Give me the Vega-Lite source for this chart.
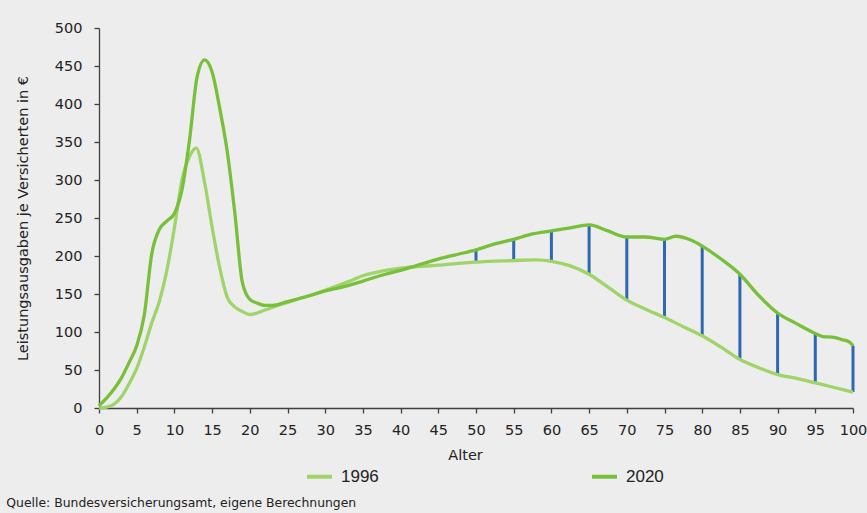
{
  "$schema": "https://vega.github.io/schema/vega-lite/v6.json",
  "width": 754,
  "height": 380,
  "autosize": {"type": "none"},
  "padding": {"left": 99, "top": 28, "right": 14, "bottom": 105},
  "background": "#ededed",
  "config": {
    "view": {"stroke": null},
    "font": "DejaVu Sans",
    "axis": {
      "grid": false,
      "labelOverlap": false,
      "labelFont": "DejaVu Sans",
      "labelFontSize": 14.5,
      "labelColor": "#222222",
      "titleFont": "DejaVu Sans",
      "titleFontSize": 14.5,
      "titleFontWeight": "normal",
      "titleColor": "#222222",
      "domainColor": "#404040",
      "domainWidth": 1.3,
      "tickColor": "#404040",
      "tickWidth": 1.3,
      "tickSize": 5
    },
    "axisX": {"labelPadding": 10, "titlePadding": 12},
    "axisY": {"labelPadding": 12, "titlePadding": 24}
  },
  "title": {
    "text": "Quelle: Bundesversicherungsamt, eigene Berechnungen",
    "orient": "bottom",
    "anchor": "start",
    "frame": "bounds",
    "font": "DejaVu Sans",
    "fontSize": 12.4,
    "fontWeight": "normal",
    "color": "#222222",
    "offset": 12,
    "dx": -9
  },
  "datasets": {
    "lines": [
      {"age": 0, "year": "1996", "value": 0},
      {"age": 1, "year": "1996", "value": 1},
      {"age": 2, "year": "1996", "value": 5},
      {"age": 3, "year": "1996", "value": 15},
      {"age": 4, "year": "1996", "value": 32},
      {"age": 5, "year": "1996", "value": 52},
      {"age": 6, "year": "1996", "value": 80},
      {"age": 7, "year": "1996", "value": 112},
      {"age": 8, "year": "1996", "value": 140},
      {"age": 9, "year": "1996", "value": 181},
      {"age": 10, "year": "1996", "value": 237},
      {"age": 11, "year": "1996", "value": 300},
      {"age": 12, "year": "1996", "value": 331},
      {"age": 12.9, "year": "1996", "value": 342},
      {"age": 14, "year": "1996", "value": 297},
      {"age": 15, "year": "1996", "value": 238},
      {"age": 16, "year": "1996", "value": 185},
      {"age": 17, "year": "1996", "value": 146},
      {"age": 18, "year": "1996", "value": 133},
      {"age": 19, "year": "1996", "value": 127},
      {"age": 20, "year": "1996", "value": 123},
      {"age": 22, "year": "1996", "value": 129},
      {"age": 24, "year": "1996", "value": 136},
      {"age": 27, "year": "1996", "value": 145},
      {"age": 30, "year": "1996", "value": 155},
      {"age": 33, "year": "1996", "value": 166},
      {"age": 35, "year": "1996", "value": 174},
      {"age": 37.5, "year": "1996", "value": 180},
      {"age": 40, "year": "1996", "value": 184},
      {"age": 45, "year": "1996", "value": 188},
      {"age": 50, "year": "1996", "value": 192},
      {"age": 55, "year": "1996", "value": 194},
      {"age": 58, "year": "1996", "value": 195},
      {"age": 60, "year": "1996", "value": 193},
      {"age": 62.5, "year": "1996", "value": 187},
      {"age": 65, "year": "1996", "value": 176},
      {"age": 67.5, "year": "1996", "value": 159},
      {"age": 70, "year": "1996", "value": 142},
      {"age": 72.5, "year": "1996", "value": 130},
      {"age": 75, "year": "1996", "value": 119},
      {"age": 77.5, "year": "1996", "value": 107},
      {"age": 80, "year": "1996", "value": 95},
      {"age": 82.5, "year": "1996", "value": 80},
      {"age": 85, "year": "1996", "value": 64},
      {"age": 87.5, "year": "1996", "value": 53},
      {"age": 90, "year": "1996", "value": 44},
      {"age": 92.5, "year": "1996", "value": 39},
      {"age": 95, "year": "1996", "value": 33},
      {"age": 97.5, "year": "1996", "value": 27},
      {"age": 100, "year": "1996", "value": 21},
      {"age": 0, "year": "2020", "value": 3},
      {"age": 1, "year": "2020", "value": 13},
      {"age": 2, "year": "2020", "value": 25},
      {"age": 3, "year": "2020", "value": 40},
      {"age": 4, "year": "2020", "value": 60},
      {"age": 5, "year": "2020", "value": 82},
      {"age": 6, "year": "2020", "value": 122},
      {"age": 7, "year": "2020", "value": 203},
      {"age": 8, "year": "2020", "value": 235},
      {"age": 9, "year": "2020", "value": 246},
      {"age": 10, "year": "2020", "value": 256},
      {"age": 11, "year": "2020", "value": 287},
      {"age": 12, "year": "2020", "value": 352},
      {"age": 13, "year": "2020", "value": 435},
      {"age": 14, "year": "2020", "value": 458},
      {"age": 15, "year": "2020", "value": 442},
      {"age": 16, "year": "2020", "value": 395},
      {"age": 17, "year": "2020", "value": 338},
      {"age": 18, "year": "2020", "value": 258},
      {"age": 19, "year": "2020", "value": 166},
      {"age": 20, "year": "2020", "value": 143},
      {"age": 21, "year": "2020", "value": 138},
      {"age": 22, "year": "2020", "value": 135},
      {"age": 23, "year": "2020", "value": 135},
      {"age": 25, "year": "2020", "value": 140},
      {"age": 28, "year": "2020", "value": 148},
      {"age": 30, "year": "2020", "value": 154},
      {"age": 33, "year": "2020", "value": 161},
      {"age": 35, "year": "2020", "value": 167},
      {"age": 38, "year": "2020", "value": 176},
      {"age": 40, "year": "2020", "value": 181},
      {"age": 42, "year": "2020", "value": 187},
      {"age": 45, "year": "2020", "value": 196},
      {"age": 47.5, "year": "2020", "value": 202},
      {"age": 50, "year": "2020", "value": 208},
      {"age": 52.5, "year": "2020", "value": 216},
      {"age": 55, "year": "2020", "value": 222},
      {"age": 57.5, "year": "2020", "value": 229},
      {"age": 60, "year": "2020", "value": 233},
      {"age": 62.5, "year": "2020", "value": 237},
      {"age": 65, "year": "2020", "value": 241},
      {"age": 67.5, "year": "2020", "value": 233},
      {"age": 70, "year": "2020", "value": 225},
      {"age": 72.5, "year": "2020", "value": 225},
      {"age": 75, "year": "2020", "value": 222},
      {"age": 76.5, "year": "2020", "value": 226},
      {"age": 78.5, "year": "2020", "value": 221},
      {"age": 80, "year": "2020", "value": 213},
      {"age": 82.5, "year": "2020", "value": 196},
      {"age": 85, "year": "2020", "value": 176},
      {"age": 87.5, "year": "2020", "value": 148},
      {"age": 90, "year": "2020", "value": 125},
      {"age": 92.5, "year": "2020", "value": 111},
      {"age": 95, "year": "2020", "value": 98},
      {"age": 96, "year": "2020", "value": 94},
      {"age": 97.5, "year": "2020", "value": 93},
      {"age": 98.5, "year": "2020", "value": 90},
      {"age": 99.5, "year": "2020", "value": 87},
      {"age": 100, "year": "2020", "value": 82}
    ],
    "bars": [
      {"age": 50, "v1996": 192, "v2020": 208},
      {"age": 55, "v1996": 194, "v2020": 222},
      {"age": 60, "v1996": 193, "v2020": 233},
      {"age": 65, "v1996": 176, "v2020": 241},
      {"age": 70, "v1996": 142, "v2020": 225},
      {"age": 75, "v1996": 119, "v2020": 222},
      {"age": 80, "v1996": 95, "v2020": 213},
      {"age": 85, "v1996": 64, "v2020": 176},
      {"age": 90, "v1996": 44, "v2020": 125},
      {"age": 95, "v1996": 33, "v2020": 98},
      {"age": 100, "v1996": 21, "v2020": 82}
    ]
  },
  "encoding": {
    "x": {
      "field": "age",
      "type": "quantitative",
      "title": "Alter",
      "scale": {"domain": [0, 100], "nice": false},
      "axis": {
        "tickCount": 20,
        "labelFlush": false,
        "titleX": 366
      }
    }
  },
  "layer": [
    {
      "data": {"name": "bars"},
      "mark": {"type": "rule", "color": "#2f67b1", "strokeWidth": 3},
      "encoding": {
        "y": {
          "field": "v1996",
          "type": "quantitative",
          "title": "Leistungsausgaben je Versicherten in €",
          "scale": {"domain": [0, 500], "nice": false},
          "axis": {"tickCount": 10}
        },
        "y2": {"field": "v2020"}
      }
    },
    {
      "data": {"name": "lines"},
      "mark": {"type": "line", "strokeWidth": 3.3, "interpolate": "monotone"},
      "encoding": {
        "y": {
          "field": "value",
          "type": "quantitative",
          "title": "Leistungsausgaben je Versicherten in €",
          "axis": {"tickCount": 10}
        },
        "color": {
          "field": "year",
          "type": "nominal",
          "scale": {"domain": ["1996", "2020"], "range": ["#9fd46a", "#78bf3a"]},
          "legend": {
            "title": null,
            "orient": "none",
            "direction": "horizontal",
            "legendX": 206,
            "legendY": 434,
            "padding": 0,
            "symbolType": "stroke",
            "symbolSize": 625,
            "symbolStrokeWidth": 4,
            "labelFont": "Liberation Sans",
            "labelFontSize": 17,
            "labelColor": "#222222",
            "labelOffset": 7,
            "columnPadding": 205
          }
        }
      }
    }
  ]
}
